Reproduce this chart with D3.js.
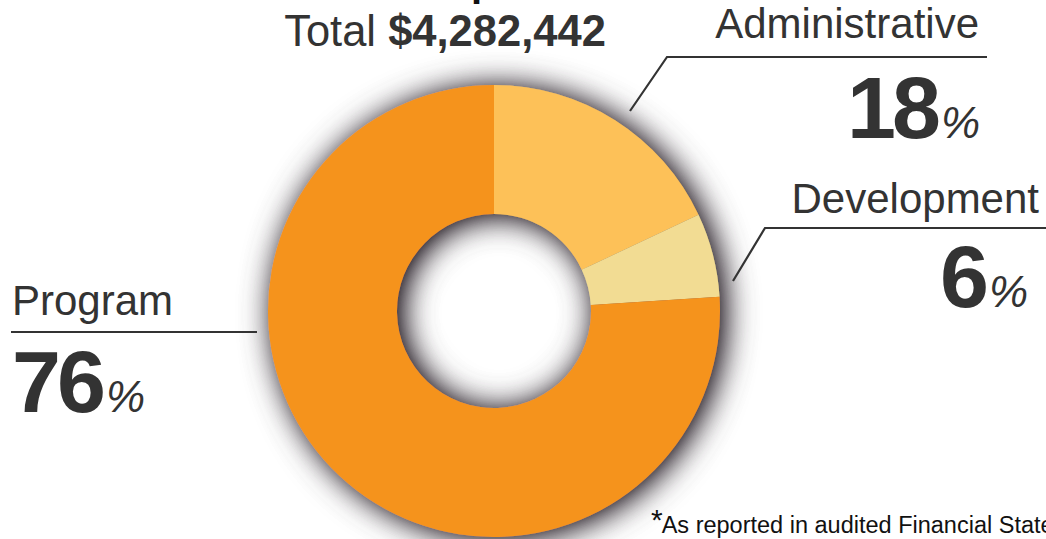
<!DOCTYPE html>
<html><head><meta charset="utf-8">
<script src="https://cdn.jsdelivr.net/npm/d3@7"></script>
<style>
html,body{margin:0;padding:0;background:#fff;overflow:hidden}
svg{display:block;font-family:"Liberation Sans",Arial,Helvetica,sans-serif}
</style></head><body>
<svg id="c" width="1046" height="539"></svg>
<script>
const categories = ["Administrative", "Development", "Program"];
const values = [18, 6, 76];
const colors = ["#FDC158", "#F2DC93", "#F5931F"];
const totalLabel = "$4,282,442";
const footnote = "As reported in audited Financial Statements";

const W = 1046, H = 539;
const cx = 494, cy = 311, rOuter = 226, rInner = 97;
const ink = "#333333";

const svg = d3.select("#c");
const defs = svg.append("defs");
const f = defs.append("filter").attr("id","shadow")
  .attr("x","-30%").attr("y","-30%").attr("width","160%").attr("height","160%");
f.append("feGaussianBlur").attr("in","SourceAlpha").attr("stdDeviation",16).attr("result","b");
f.append("feOffset").attr("in","b").attr("dx",5).attr("dy",2).attr("result","o");
const ct = f.append("feComponentTransfer").attr("in","o").attr("result","o2");
ct.append("feFuncA").attr("type","linear").attr("slope",1.5).attr("intercept",0);
f.append("feFlood").attr("flood-color","#4a434a").attr("flood-opacity",1).attr("result","c");
f.append("feComposite").attr("in","c").attr("in2","o2").attr("operator","in").attr("result","s");
const m = f.append("feMerge");
m.append("feMergeNode").attr("in","s");
m.append("feMergeNode").attr("in","SourceGraphic");

const data = categories.map((c,i)=>({name:c, value:values[i], color:colors[i]}));
const pie = d3.pie().sort(null).value(d=>d.value).startAngle(0).endAngle(2*Math.PI);
const arc = d3.arc().innerRadius(rInner).outerRadius(rOuter);

const g = svg.append("g").attr("transform",`translate(${cx},${cy})`).attr("filter","url(#shadow)");
g.selectAll("path").data(pie(data)).join("path")
  .attr("d", arc).attr("fill", d=>d.data.color);

// Title (cut at top)
svg.append("text").attr("x",422).attr("y",-4).attr("font-size",40).attr("font-weight","bold")
  .attr("fill","#111").text("Expenses");
const t = svg.append("text").attr("x",445).attr("y",46).attr("text-anchor","middle")
  .attr("font-size",43.5).attr("fill",ink);
t.append("tspan").text("Total ");
t.append("tspan").attr("font-weight","bold").text(totalLabel);

// Labels layout (annotation positions)
const layout = {
  "Administrative": {name:[979,38], line:[[630,111],[667,57],[987,57]], pct:[980,138], anchor:"end"},
  "Development":   {name:[1039,213], line:[[733,281],[765,228],[1046,228]], pct:[1028,307], anchor:"end"},
  "Program":       {name:[12,315], line:[[11,332],[257,332]], pct:[12,412], anchor:"start"}
};
data.forEach(d=>{
  const L = layout[d.name];
  svg.append("text").attr("x",L.name[0]).attr("y",L.name[1]).attr("text-anchor",L.anchor)
    .attr("font-size",42).attr("fill",ink).text(d.name);
  svg.append("path").attr("d", d3.line()(L.line)).attr("fill","none")
    .attr("stroke",ink).attr("stroke-width",2.2);
  const p = svg.append("text").attr("x",L.pct[0]).attr("y",L.pct[1]).attr("text-anchor",L.anchor)
    .attr("fill",ink);
  p.append("tspan").attr("font-size",88).attr("font-weight","bold").attr("letter-spacing",-4).text(d.value);
  p.append("tspan").attr("font-size",44).attr("font-style","italic").attr("font-weight",300).attr("dx",4).text("%");
});

// Footnote
const fn = svg.append("text").attr("x",651).attr("y",533).attr("font-size",23.5).attr("fill","#111");
fn.append("tspan").attr("font-size",30).attr("dy",-3).text("*");
fn.append("tspan").attr("dy",3).attr("dx",-1).text(footnote);
</script>
</body></html>
